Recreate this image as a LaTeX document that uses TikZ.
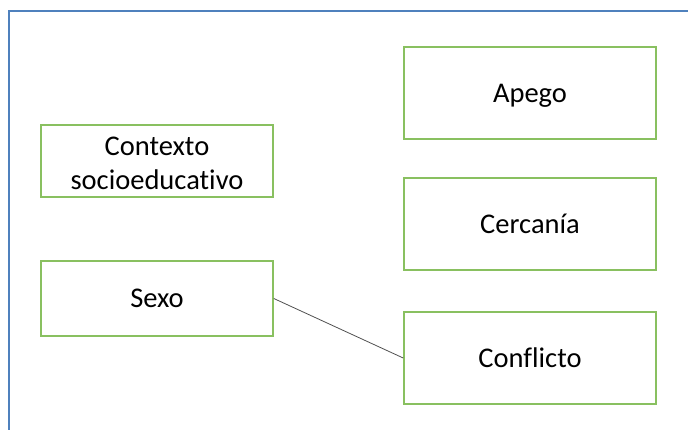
\documentclass[tikz,border=0pt]{standalone}
\usepackage{fontspec}
\setmainfont[Ligatures={NoCommon}]{Carlito}
\definecolor{framblue}{RGB}{79,129,189}
\definecolor{boxgreen}{RGB}{137,192,96}
\definecolor{linkgray}{RGB}{80,80,80}
\begin{document}
\begin{tikzpicture}[x=1pt,y=-1pt,
  varbox/.style={draw=boxgreen,line width=1.6pt,fill=white,align=center,
    font=\fontsize{28.5}{31.7}\selectfont,inner sep=0pt,
    text height=24pt,text depth=5pt},
  twoline/.style={text height={},text depth={}},
  link/.style={draw=linkgray,line width=0.8pt}]
\useasboundingbox (0,0) rectangle (688,430);
% frame of the canvas
\draw[framblue,line width=2.4pt] (9,430) -- (9,11) -- (688,11);
% variable boxes
\node[varbox,twoline,minimum width=232pt,minimum height=72pt] (ctx) at (157,161) {\rule{0pt}{23pt}Contexto\\[3pt]socioeducativo};
\node[varbox,minimum width=232pt,minimum height=75pt] (sexo) at (157,298.5) {Sexo};
\node[varbox,minimum width=252pt,minimum height=92pt] (apego) at (530,93) {Apego};
\node[varbox,minimum width=252pt,minimum height=92pt] (cerc) at (530,224) {Cercanía};
\node[varbox,minimum width=252pt,minimum height=92pt] (confl) at (530,358) {Conflicto};
% link between sexo and conflicto
\draw[link] (sexo.east) -- (confl.west);
\end{tikzpicture}
\end{document}
